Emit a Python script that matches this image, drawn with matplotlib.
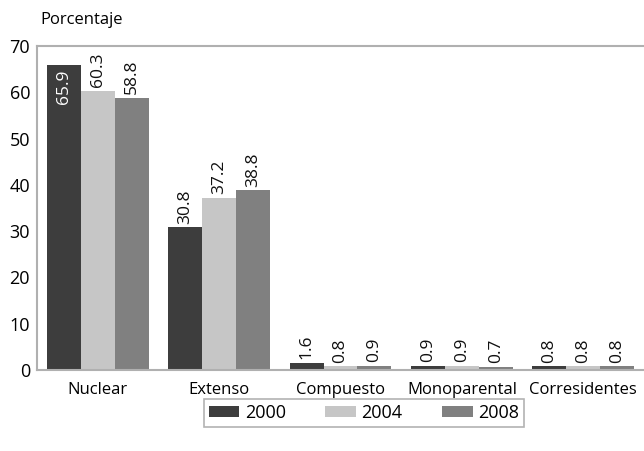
import matplotlib
matplotlib.use("Agg")
import matplotlib.pyplot as plt
import numpy as np

categories = ["Nuclear", "Extenso", "Compuesto", "Monoparental", "Corresidentes"]
years = ["2000", "2004", "2008"]
v2000 = [65.9, 30.8, 1.6, 0.9, 0.8]
v2004 = [60.3, 37.2, 0.8, 0.9, 0.8]
v2008 = [58.8, 38.8, 0.9, 0.7, 0.8]
colors = ["#3d3d3d", "#c6c6c6", "#808080"]

plt.rcParams['font.family'] = ['Open Sans', 'DejaVu Sans']

fig = plt.figure(figsize=(6.44, 4.51), dpi=100)
ax = fig.add_axes([37/644, 1-370/451, 1-37/644, (370-46)/451])

x = np.arange(len(categories))
w = 0.28
series = [v2000, v2004, v2008]
for i, (vals, c, yr) in enumerate(zip(series, colors, years)):
    pos = x + (i - 1) * w
    ax.bar(pos, vals, width=w, color=c, label=yr, zorder=2)
    for px, v in zip(pos, vals):
        if v > 63:
            ax.text(px, v - 1.0, f"{v:.1f}", rotation=90, ha='center', va='top',
                    color='white', fontsize=12.5)
        else:
            ax.text(px, v + 0.8, f"{v:.1f}", rotation=90, ha='center', va='bottom',
                    color='#111111', fontsize=12.5)

ax.set_xlim(-0.5, len(categories) - 0.5)
ax.set_ylim(0, 70)
ax.set_yticks(range(0, 71, 10))
ax.set_xticks(x)
ax.set_xticklabels(categories, fontsize=12)
ax.tick_params(axis='y', labelsize=13, length=0, pad=5)
ax.tick_params(axis='x', length=0, pad=9)
for s in ['top', 'left', 'bottom']:
    ax.spines[s].set_color('#b0b0b0')
    ax.spines[s].set_linewidth(1.5)
ax.spines['right'].set_visible(False)

fig.text(40/644, 1-20/451, "Porcentaje", fontsize=12, ha='left', va='center')

leg = fig.legend(loc='center', bbox_to_anchor=(364/644, 1-413/451), ncol=3,
                 frameon=True, fancybox=False, edgecolor='#a0a0a0', fontsize=13,
                 handlelength=1.7, handleheight=0.6, columnspacing=2.2,
                 handletextpad=0.3, borderpad=0.25)
leg.get_frame().set_linewidth(1.2)

fig.savefig("out.png", dpi=100)
